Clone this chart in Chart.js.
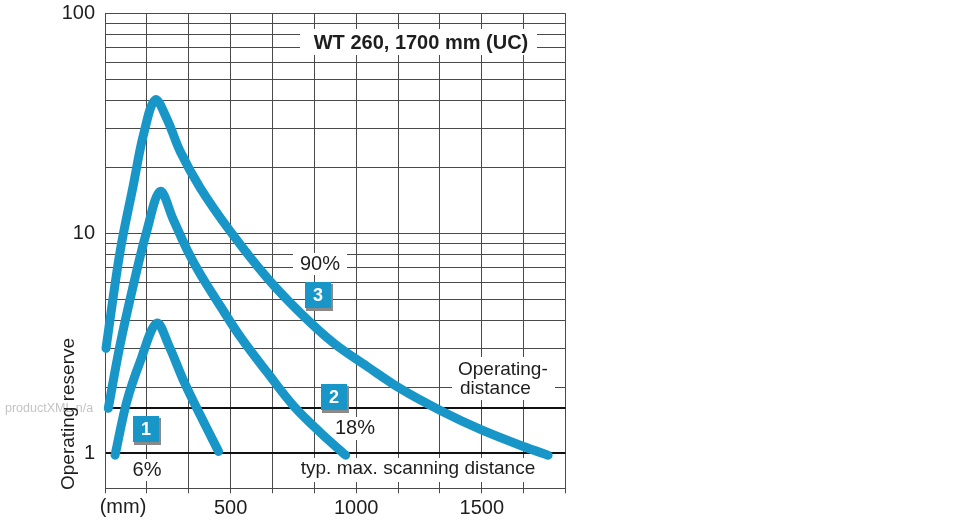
<!DOCTYPE html>
<html>
<head>
<meta charset="utf-8">
<script src="https://cdn.jsdelivr.net/npm/chart.js@4/dist/chart.umd.min.js"></script>
<style>
  html, body { margin: 0; padding: 0; background: #fff; }
  #wrap { width: 970px; height: 520px; }
</style>
</head>
<body>
<div id="wrap"><canvas id="chart" width="970" height="520"></canvas></div>
<script>
// distances (mm) and operating reserve for the three curves
const dist6 = [40, 87, 140, 206, 255, 315, 383, 452];
const reserve6 = [0.98, 1.72, 2.61, 3.9, 3.07, 2.11, 1.46, 1.02];
const dist18 = [13, 60, 113, 166, 220, 271, 327, 379, 459, 539, 647, 751, 858, 958];
const reserve18 = [1.6, 3.11, 5.82, 10.2, 15.5, 11.6, 8.4, 6.53, 4.67, 3.38, 2.32, 1.64, 1.24, 0.98];
const dist90 = [4, 60, 113, 153, 200, 247, 299, 379, 499, 646, 778, 910, 1046, 1178, 1337, 1497, 1669, 1764];
const reserve90 = [3.0, 8.25, 16.6, 28.0, 40.4, 33.0, 23.6, 16.1, 10.2, 6.26, 4.34, 3.17, 2.47, 1.96, 1.56, 1.28, 1.07, 0.98];

const xTicks = [0, 1, 2, 3, 4, 5, 6, 7, 8, 9, 10, 11].map(i => i * 500 / 3);
const xLabels = [500, 1000, 1500];
const yTicks = [1, 1.6, 2, 3, 4, 5, 6, 7, 8, 9, 10, 20, 30, 40, 50, 60, 70, 80, 90, 100];
const yLabels = [1, 10, 100];
const thickLines = [1, 1.6];

const BLUE = "#1996c8";
const FONT = "'Liberation Sans', Arial, sans-serif";

function zip(xs, ys) { return xs.map((x, i) => ({ x: x, y: ys[i] })); }

function curve(xs, ys) {
  return {
    data: zip(xs, ys),
    borderColor: BLUE,
    borderWidth: 9,
    pointRadius: 0,
    tension: 0.35,
    borderCapStyle: "round",
    borderJoinStyle: "round",
    clip: false
  };
}

function boxText(ctx, text, x, y, font, bx, by, bw, bh) {
  ctx.fillStyle = "#fff";
  ctx.fillRect(bx, by, bw, bh);
  ctx.font = font;
  ctx.fillStyle = "#1e1e1e";
  ctx.textAlign = "center";
  ctx.textBaseline = "middle";
  ctx.fillText(text, x, y);
}

function badge(ctx, num, cx, cy) {
  ctx.fillStyle = "#8a8a8a";
  ctx.fillRect(cx - 12, cy - 11, 27, 27);
  ctx.fillStyle = BLUE;
  ctx.fillRect(cx - 13, cy - 13, 26, 26);
  ctx.fillStyle = "#fff";
  ctx.font = "bold 18px " + FONT;
  ctx.textAlign = "center";
  ctx.textBaseline = "middle";
  ctx.fillText(num, cx, cy + 1);
}

const labelsPlugin = {
  id: "labels",
  beforeDatasetsDraw(chart) {
    const ctx = chart.ctx;
    ctx.save();
    boxText(ctx, "WT 260, 1700 mm (UC)", 421, 43, "bold 20px " + FONT, 300, 29, 237, 26);
    boxText(ctx, "90%", 320, 264, "20px " + FONT, 293, 253, 54, 22);
    boxText(ctx, "18%", 355, 428, "20px " + FONT, 332, 417, 46, 23);
    boxText(ctx, "6%", 147, 470, "20px " + FONT, 128, 459, 38, 22);
    boxText(ctx, "typ. max. scanning distance", 418, 469, "19px " + FONT, 294, 458, 248, 24);
    ctx.fillStyle = "#fff";
    ctx.fillRect(452, 357, 103, 43);
    ctx.fillStyle = "#1e1e1e";
    ctx.font = "19px " + FONT;
    ctx.textAlign = "left";
    ctx.textBaseline = "middle";
    ctx.fillText("Operating-", 458, 370);
    ctx.fillText("distance", 460, 389);
    badge(ctx, "3", 318, 295);
    badge(ctx, "2", 334, 397);
    badge(ctx, "1", 146, 429);
    ctx.restore();
  },
  afterDraw(chart) {
    const ctx = chart.ctx;
    ctx.save();
    ctx.fillStyle = "#c4c4c4";
    ctx.font = "12.5px " + FONT;
    ctx.textAlign = "left";
    ctx.textBaseline = "middle";
    ctx.fillText("productXML n/a", 5, 409);
    ctx.fillStyle = "#1e1e1e";
    ctx.font = "20px " + FONT;
    ctx.textAlign = "center";
    ctx.fillText("(mm)", 123, 507);
    ctx.translate(69, 414);
    ctx.rotate(-Math.PI / 2);
    ctx.font = "19px " + FONT;
    ctx.fillText("Operating reserve", 0, 0);
    ctx.restore();
  }
};

function noPad(s) {
  s.paddingTop = 0;
  s.paddingBottom = 0;
  s.paddingLeft = 0;
  s.paddingRight = 0;
}

new Chart(document.getElementById("chart"), {
  type: "line",
  data: {
    datasets: [curve(dist90, reserve90), curve(dist18, reserve18), curve(dist6, reserve6)]
  },
  options: {
    responsive: false,
    animation: false,
    layout: { padding: { left: 0, right: 404.5, top: 13.3, bottom: 0 } },
    plugins: { legend: { display: false }, tooltip: { enabled: false } },
    scales: {
      x: {
        type: "linear",
        min: 0,
        max: 5500 / 3,
        afterBuildTicks: s => { s.ticks = xTicks.map(v => ({ value: v })); },
        afterFit: s => { s.height = 31.7; noPad(s); },
        grid: { color: "#4a4a4a", lineWidth: 1, tickLength: 5, drawTicks: true },
        border: { display: true, color: "#4a4a4a", width: 1 },
        ticks: {
          autoSkip: false,
          maxRotation: 0,
          padding: 3,
          color: "#1e1e1e",
          font: { family: FONT, size: 20 },
          callback: v => xLabels.includes(Math.round(v)) ? String(Math.round(v)) : ""
        }
      },
      y: {
        type: "logarithmic",
        min: 0.693,
        max: 100,
        afterBuildTicks: s => { s.ticks = yTicks.map(v => ({ value: v })); },
        afterFit: s => { s.width = 105; noPad(s); },
        grid: {
          drawTicks: false,
          color: c => (c.tick && thickLines.includes(c.tick.value)) ? "#111" : "#4a4a4a",
          lineWidth: c => (c.tick && thickLines.includes(c.tick.value)) ? 2 : 1
        },
        border: { display: true, color: "#4a4a4a", width: 1 },
        ticks: {
          autoSkip: false,
          padding: 10,
          color: "#1e1e1e",
          font: { family: FONT, size: 20 },
          callback: v => yLabels.includes(v) ? String(v) : ""
        }
      }
    }
  },
  plugins: [labelsPlugin]
});
</script>
</body>
</html>
